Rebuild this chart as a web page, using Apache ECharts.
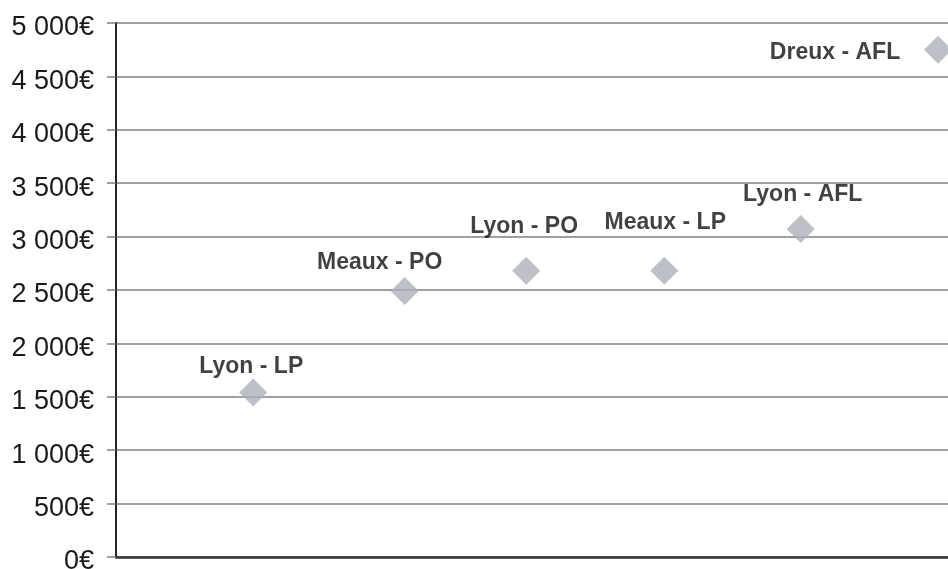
<!DOCTYPE html>
<html>
<head>
<meta charset="utf-8">
<script src="https://cdn.jsdelivr.net/npm/echarts@6/dist/echarts.min.js"></script>
<style>
  html, body { margin: 0; padding: 0; background: #fff; }
  #chart { width: 948px; height: 569px; }
</style>
</head>
<body>
<div id="chart"></div>
<script>
'use strict'

// sites (label), horizontal position on a hidden 0-100 scale, cost in euros
const sites = ['Lyon - LP', 'Meaux - PO', 'Lyon - PO', 'Meaux - LP', 'Lyon - AFL', 'Dreux - AFL']
const xPos = [16.5, 34.7, 49.3, 65.9, 82.3, 98.8]
const costs = [1540, 2490, 2680, 2680, 3070, 4750]

// where each label sits relative to its marker (pixels)
const labelOffsets = [[-2, -26], [-25, -28], [-2, -44], [1, -48], [2, -34], [-103, 3]]

const FONT = "'Liberation Sans', Arial, sans-serif"

function formatEuro (v) {
  return '{v|' + String(v).replace(/\B(?=(\d{3})+(?!\d))/g, ' ') + '€}'
}

const chart = echarts.init(document.getElementById('chart'), null, { renderer: 'canvas' })

const option = {
  animation: false,
  backgroundColor: '#fff',
  grid: { left: 116, right: 0, top: 23, bottom: 12, containLabel: false, outerBoundsMode: 'none' },
  xAxis: {
    type: 'value',
    min: 0,
    max: 100,
    axisLine: { show: true, onZero: false, lineStyle: { color: '#333', width: 2.5 } },
    axisTick: { show: false },
    axisLabel: { show: false },
    splitLine: { show: false }
  },
  yAxis: {
    type: 'value',
    min: 0,
    max: 5000,
    interval: 500,
    axisLine: { show: true, lineStyle: { color: '#222', width: 2 } },
    axisTick: { show: true, length: 9, lineStyle: { color: '#808080', width: 1.5 } },
    axisLabel: {
      margin: 22,
      formatter: formatEuro,
      rich: {
        v: {
          color: '#1a1a1a',
          fontSize: 27,
          fontFamily: FONT,
          padding: [10, 0, 0, 0]
        }
      }
    },
    splitLine: { show: true, lineStyle: { color: '#808080', width: 1.5 } }
  },
  series: [{
    type: 'scatter',
    symbol: 'diamond',
    symbolSize: 28,
    itemStyle: { color: '#aab2b9' },
    label: {
      show: true,
      position: 'inside',
      color: '#111',
      fontSize: 23,
      fontWeight: 'bold',
      fontFamily: FONT,
      textBorderWidth: 0,
      formatter: p => p.name
    },
    data: sites.map((name, i) => ({
      name,
      value: [xPos[i], costs[i]],
      label: { offset: labelOffsets[i] }
    }))
  }]
}

chart.setOption(option)
</script>
</body>
</html>
